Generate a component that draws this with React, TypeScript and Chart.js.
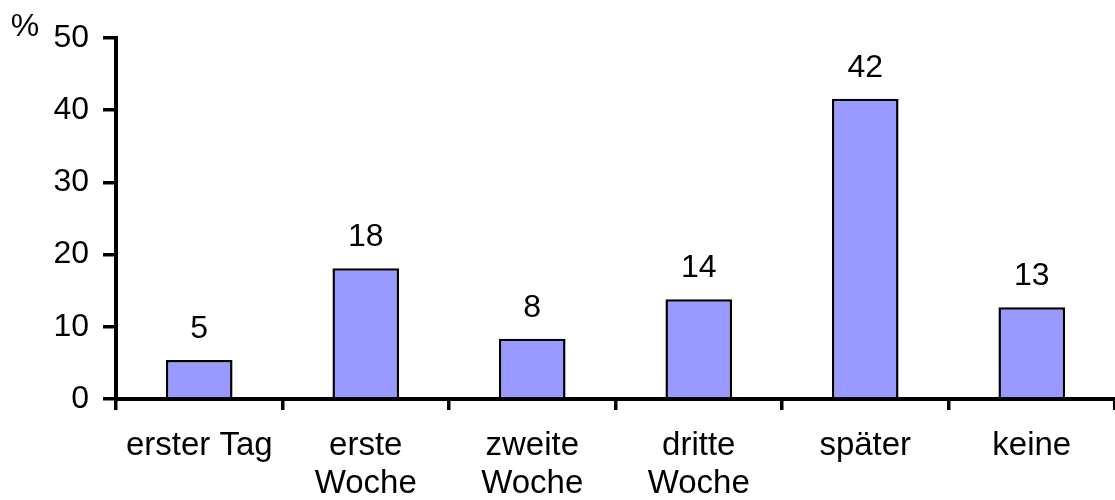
import React, { useEffect, useRef } from "react";
import { Chart, registerables } from "chart.js";

Chart.register(...registerables);

const categories: (string | string[])[] = [
  "erster Tag",
  ["erste", "Woche"],
  ["zweite", "Woche"],
  ["dritte", "Woche"],
  "später",
  "keine",
];
const values = [5.4, 18.1, 8.35, 13.8, 41.6, 12.7];
const valueLabels = ["5", "18", "8", "14", "42", "13"];
const yTicks = [0, 10, 20, 30, 40, 50];
const unitLabel = "%";

const FONT = "'Liberation Sans', Arial, sans-serif";
const FS = 32;

const labelPlugin = {
  id: "valueLabels",
  afterDatasetsDraw(chart: any) {
    const ctx = chart.ctx;
    const meta = chart.getDatasetMeta(0);
    ctx.save();
    ctx.font = `${FS}px ${FONT}`;
    ctx.fillStyle = "#000";
    ctx.textAlign = "center";
    ctx.textBaseline = "alphabetic";
    meta.data.forEach((bar: any, i: number) => {
      ctx.fillText(valueLabels[i], bar.x, bar.y - 22);
    });
    const ca = chart.chartArea;
    ctx.fillText(unitLabel, ca.left - 91, ca.top - 2);
    ctx.restore();
  },
};

export default function App() {
  const ref = useRef<HTMLCanvasElement>(null);
  useEffect(() => {
    if (!ref.current) return;
    const chart = new Chart(ref.current, {
      type: "bar",
      data: {
        labels: categories,
        datasets: [
          {
            data: values,
            backgroundColor: "#9999FF",
            borderColor: "#000000",
            borderWidth: 2.5,
            barPercentage: 0.4,
            categoryPercentage: 1,
          },
        ],
      },
      options: {
        animation: false,
        responsive: false,
        maintainAspectRatio: false,
        layout: { padding: { top: 38, right: 0, left: 0, bottom: 0 } },
        plugins: { legend: { display: false }, tooltip: { enabled: false } },
        scales: {
          x: {
            grid: {
              display: true,
              offset: true,
              drawOnChartArea: false,
              drawTicks: true,
              tickLength: 11,
              lineWidth: 3.5,
              tickWidth: 3.5,
              color: "#000",
              tickColor: "#000",
            },
            border: { display: true, color: "#000", width: 4 },
            ticks: {
              color: "#000",
              font: { family: FONT, size: 33, lineHeight: 1.14 },
              padding: 17,
              maxRotation: 0,
              autoSkip: false,
            },
            afterFit: (s: any) => {
              s.height = 101;
            },
          },
          y: {
            min: 0,
            max: 50,
            afterBuildTicks: (s: any) => {
              s.ticks = yTicks.map((v) => ({ value: v }));
            },
            grid: {
              display: true,
              drawOnChartArea: false,
              drawTicks: true,
              tickLength: 13,
              lineWidth: 3.5,
              tickWidth: 3.5,
              color: "#000",
              tickColor: "#000",
            },
            border: { display: true, color: "#000", width: 4 },
            ticks: {
              color: "#000",
              font: { family: FONT, size: FS },
              padding: 14,
            },
            afterFit: (s: any) => {
              s.width = 116;
            },
          },
        },
      },
      plugins: [labelPlugin],
    });
    return () => chart.destroy();
  }, []);
  return (
    <div style={{ position: "absolute", left: 0, top: 0, width: 1115, height: 500 }}>
      <canvas ref={ref} width={1115} height={500} style={{ width: 1115, height: 500, display: "block" }} />
    </div>
  );
}
